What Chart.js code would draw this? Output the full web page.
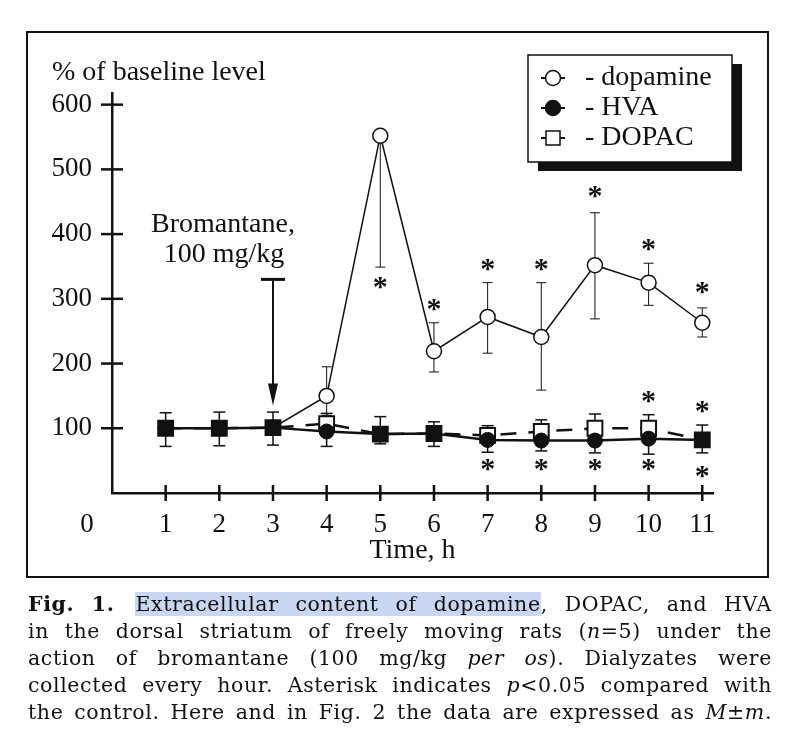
<!DOCTYPE html>
<html>
<head>
<meta charset="utf-8">
<script src="https://cdn.jsdelivr.net/npm/chart.js@4.4.1/dist/chart.umd.min.js"></script>
<style>
  html, body { margin: 0; padding: 0; background: #fff; }
  #wrap { position: relative; width: 798px; height: 748px; overflow: hidden; }
  #frame { position: absolute; left: 26px; top: 31px; width: 739px; height: 543px; border: 2px solid #111; }
  #chart { position: absolute; left: 0; top: 0; }
  #caption { position: absolute; left: 28px; top: 591px; width: 744px; font-family: "DejaVu Serif", serif; font-size: 20.5px; line-height: 27px; letter-spacing: 0.6px; color: #111; }
  #caption div { text-align: justify; text-align-last: justify; white-space: nowrap; }
  .hl { background: #c8d6f2; }
  .gap { margin-right: 4px; }
</style>
</head>
<body>
<div id="wrap">
  <div id="frame"></div>
  <canvas id="chart" width="798" height="748"></canvas>
  <div id="caption">
    <div><b class="gap">Fig. 1.</b> <span class="hl">Extracellular content of dopamine</span>, DOPAC, and HVA</div>
    <div>in the dorsal striatum of freely moving rats (<i>n</i>=5) under the</div>
    <div>action of bromantane (100 mg/kg <i>per os</i>). Dialyzates were</div>
    <div>collected every hour. Asterisk indicates <i>p</i>&lt;0.05 compared with</div>
    <div>the control. Here and in Fig. 2 the data are expressed as <i>M</i>&#177;<i>m</i>.</div>
  </div>
</div>
<script>
const hours = [1, 2, 3, 4, 5, 6, 7, 8, 9, 10, 11];
const dopamine = [100, 100, 101, 150, 552, 219, 272, 241, 352, 325, 263];
const dopamineHigh = [null, null, null, 195, null, 263, 325, 325, 433, 355, 286];
const dopamineLow = [null, null, null, 120, 349, 187, 216, 159, 269, 290, 241];
const hva = [100, 100, 101, 95, 91, 92, 82, 81, 81, 84, 82];
const hvaLow = [72, 73, 74, 72, 76, 72, 63, 65, 62, 60, 62];
const dopac = [100, 100, 101, 107, 91, 92, 89, 95, 100, 100, 82];
const dopacHigh = [124, 125, 125, 123, 118, 110, 104, 113, 122, 121, 105];
const yTicks = [100, 200, 300, 400, 500, 600];

// asterisks (p<0.05): [hour, level]
const starsDopamine = [[5, 325], [6, 291], [7, 352], [8, 352], [9, 465], [10, 383], [11, 317]];
const starsDopac = [[10, 149], [11, 133]];
const starsHva = [[7, 43], [8, 43], [9, 43], [10, 43], [11, 32]];

// drug given at hour 3
const drugHour = 3;
const arrowFrom = 330;
const arrowTo = 135;

const ink = '#111';
const serif = '"Liberation Serif", "Times New Roman", serif';

function line(ctx, x1, y1, x2, y2) {
  ctx.beginPath();
  ctx.moveTo(x1, y1);
  ctx.lineTo(x2, y2);
  ctx.stroke();
}

function errorBar(ctx, x, y, v, to, cap, lw) {
  if (to === null) return;
  const px = x.getPixelForValue(v[0]);
  const p1 = y.getPixelForValue(v[1]);
  const p2 = y.getPixelForValue(to);
  ctx.lineWidth = lw;
  line(ctx, px, p1, px, p2);
  line(ctx, px - cap, p2, px + cap, p2);
}

const decorations = {
  id: 'decorations',
  beforeDatasetsDraw(chart) {
    const { ctx, scales: { x, y }, chartArea } = chart;
    ctx.save();
    ctx.strokeStyle = ink;

    // tick marks crossing the axes
    ctx.lineWidth = 2.5;
    yTicks.forEach(v => {
      const py = y.getPixelForValue(v);
      line(ctx, chartArea.left - 11, py, chartArea.left + 11, py);
    });
    hours.forEach(h => {
      const px = x.getPixelForValue(h);
      line(ctx, px, chartArea.bottom - 8, px, chartArea.bottom + 8);
    });

    // error bars
    hours.forEach((h, i) => {
      errorBar(ctx, x, y, [h, dopamine[i]], dopamineHigh[i], 5, 1);
      errorBar(ctx, x, y, [h, dopamine[i]], dopamineLow[i], 5, 1);
      errorBar(ctx, x, y, [h, dopac[i]], dopacHigh[i], 6, 1.5);
      errorBar(ctx, x, y, [h, hva[i]], hvaLow[i], 6, 1.5);
    });
    ctx.restore();
  },
  afterDraw(chart) {
    const { ctx, scales: { x, y }, chartArea } = chart;
    ctx.save();
    ctx.fillStyle = ink;
    ctx.strokeStyle = ink;

    // asterisks
    ctx.font = 'bold 30px ' + serif;
    ctx.textAlign = 'center';
    ctx.textBaseline = 'alphabetic';
    [...starsDopamine, ...starsDopac, ...starsHva].forEach(([h, v]) => {
      ctx.fillText('*', x.getPixelForValue(h), y.getPixelForValue(v) + 13);
    });

    // arrow for the drug
    const ax = x.getPixelForValue(drugHour);
    const aTop = y.getPixelForValue(arrowFrom);
    const aTip = y.getPixelForValue(arrowTo);
    ctx.lineWidth = 3;
    line(ctx, ax - 12, aTop, ax + 12, aTop);
    ctx.lineWidth = 2;
    line(ctx, ax, aTop, ax, aTip - 18);
    ctx.beginPath();
    ctx.moveTo(ax - 5, aTip - 22);
    ctx.lineTo(ax + 5, aTip - 22);
    ctx.lineTo(ax, aTip);
    ctx.closePath();
    ctx.fill();

    ctx.font = '28px ' + serif;
    ctx.textBaseline = 'middle';
    ctx.fillText('Bromantane,', ax - 50, aTop - 55);
    ctx.fillText('100 mg/kg', ax - 49, aTop - 25);

    // axis captions
    ctx.textAlign = 'left';
    ctx.fillText('% of baseline level', chartArea.left - 60, 73);
    ctx.font = '27px ' + serif;
    ctx.textAlign = 'center';
    ctx.fillText('0', chartArea.left - 25, chartArea.bottom + 32);

    // legend box with shadow
    const bx = 528, by = 55, bw = 204, bh = 107;
    ctx.fillRect(bx + 10, by + 9, bw, bh);
    ctx.fillStyle = '#fff';
    ctx.fillRect(bx, by, bw, bh);
    ctx.lineWidth = 1.5;
    ctx.strokeRect(bx, by, bw, bh);

    const items = chart.data.datasets.slice().sort((a, b) => a.legendIndex - b.legendIndex);
    items.forEach((ds, i) => {
      const ly = by + 23 + i * 30;
      const mx = bx + 25;
      ctx.strokeStyle = ink;
      ctx.lineWidth = 2;
      line(ctx, mx - 12, ly, mx + 12, ly);
      ctx.lineWidth = 1.5;
      ctx.fillStyle = ds.legendFill;
      ctx.beginPath();
      if (ds.pointStyle === 'rect') {
        ctx.rect(mx - 7, ly - 7, 14, 14);
      } else {
        ctx.arc(mx, ly, 7.5, 0, Math.PI * 2);
      }
      ctx.fill();
      ctx.stroke();
      ctx.fillStyle = ink;
      ctx.font = '28px ' + serif;
      ctx.textAlign = 'left';
      ctx.textBaseline = 'middle';
      ctx.fillText('- ' + ds.label, bx + 57, ly);
    });
    ctx.restore();
  }
};

const ctx = document.getElementById('chart').getContext('2d');

const data = {
  datasets: [
    {
      label: 'dopamine',
      legendIndex: 0,
      legendFill: '#fff',
      data: hours.map((h, i) => ({ x: h, y: dopamine[i] })),
      borderColor: ink,
      borderWidth: 1.5,
      pointStyle: 'circle',
      pointRadius: 7.5,
      pointBorderWidth: 1.5,
      pointBackgroundColor: '#fff',
      pointBorderColor: ink,
      order: 3
    },
    {
      label: 'DOPAC',
      legendIndex: 2,
      legendFill: '#fff',
      data: hours.map((h, i) => ({ x: h, y: dopac[i] })),
      borderColor: ink,
      borderWidth: 2.5,
      borderDash: [16, 12],
      pointStyle: 'rect',
      pointRadius: 10.5,
      pointBorderWidth: 2,
      pointBackgroundColor: (c) => Math.abs(dopac[c.dataIndex] - hva[c.dataIndex]) < 3 ? ink : '#fff',
      pointBorderColor: ink,
      order: 2
    },
    {
      label: 'HVA',
      legendIndex: 1,
      legendFill: ink,
      data: hours.map((h, i) => ({ x: h, y: hva[i] })),
      borderColor: ink,
      borderWidth: 2.5,
      pointStyle: 'circle',
      pointRadius: 7.5,
      pointBorderWidth: 1,
      pointBackgroundColor: ink,
      pointBorderColor: ink,
      order: 1
    }
  ]
};

const config = {
  type: 'line',
  data: data,
  options: {
    responsive: false,
    animation: false,
    events: [],
    layout: {
      padding: { left: 30, top: 93, right: 85, bottom: 180 }
    },
    scales: {
      x: {
        type: 'linear',
        min: 0,
        max: 11.2,
        afterFit: (s) => { s.height = 75; },
        border: { color: ink, width: 2.5 },
        grid: { display: false, drawTicks: false },
        ticks: {
          stepSize: 1,
          includeBounds: false,
          padding: 16,
          color: ink,
          font: { family: serif, size: 27 },
          callback: (value) => value === 0 ? '' : value
        },
        title: {
          display: true,
          text: 'Time, h',
          color: ink,
          font: { family: serif, size: 28 },
          padding: { top: 0, bottom: 1 }
        }
      },
      y: {
        min: 0,
        max: 618,
        afterFit: (s) => { s.width = 82; },
        border: { color: ink, width: 2.5 },
        grid: { display: false, drawTicks: false },
        ticks: {
          stepSize: 100,
          includeBounds: false,
          padding: 20,
          color: ink,
          font: { family: serif, size: 27 },
          callback: (value) => value === 0 ? '' : value
        }
      }
    },
    plugins: {
      legend: { display: false },
      tooltip: { enabled: false }
    }
  },
  plugins: [decorations]
};

const chart = new Chart(ctx, config);
</script>
</body>
</html>
